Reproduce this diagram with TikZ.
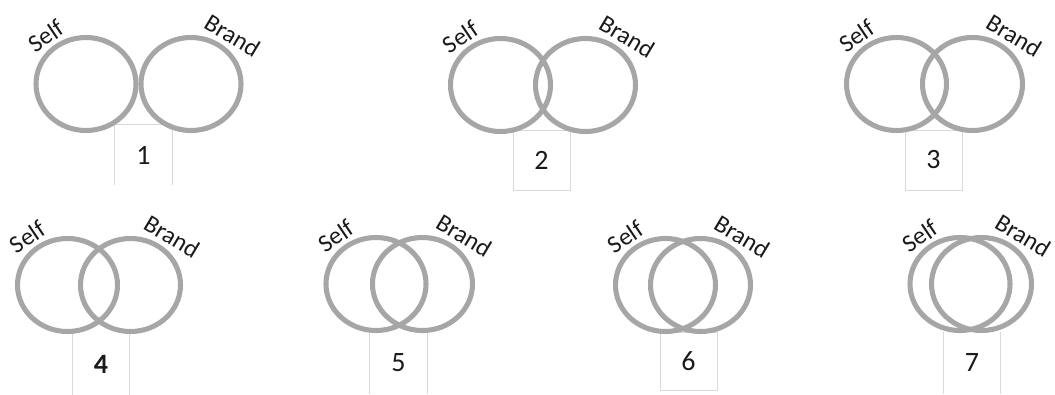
\documentclass[tikz,border=0pt]{standalone}
\usepackage{fontspec}
\setmainfont{Carlito}
\usetikzlibrary{shapes.geometric,calc}
\definecolor{ringgray}{HTML}{A6A6A6}
\definecolor{framegray}{HTML}{D9D9D9}
\definecolor{ink}{HTML}{1A1A1A}

% one Self/Brand pair: #1 id, #2 left centre x, #3 right centre x, #4 centre y
\newcommand\vennpair[4]{%
  \node[venn] (self#1) at (#2,#4) {};
  \node[venn] (brand#1) at (#3,#4) {};
  \node[lbl, rotate=34] (selftext#1) at ($(self#1.center)+(-40,-48)$) {Self};
  \node[lbl, rotate=-31] (brandtext#1) at ($(brand#1.center)+(41.5,-48.5)$) {Brand};
}

\begin{document}
\begin{tikzpicture}[x=0.75pt,y=-0.75pt,
  venn/.style={ellipse, draw=ringgray, line width=3.8pt,
    minimum width=75pt, minimum height=69.75pt, inner sep=0pt},
  lbl/.style={text=ink, font=\fontsize{18.5}{18.5}\selectfont, inner sep=0pt},
  numbox/.style={text=ink, font=\fontsize{21}{21}\selectfont, inner sep=0pt,
    minimum width=42.75pt, minimum height=45pt},
  fullbox/.style={numbox, draw=framegray, line width=0.75pt},
  openbox/.style={numbox, minimum height=46.5pt},
  frameline/.style={draw=framegray, line width=0.75pt},
]
\useasboundingbox (0,0) rectangle (1055,394);
\clip (0,0) rectangle (1055,394);

% numbered frames, drawn beneath the rings
\node[numbox] (box1) at (143.5,155) {1};
\draw[frameline] (box1.south west) |- (box1.north east) -- (box1.south east);
\node[fullbox] (box2) at (541.5,160) {2};
\node[fullbox] (box3) at (933.5,160) {3};
\node[openbox, font=\fontsize{21}{21}\selectfont\bfseries] (box4) at (101,364) {4};
\draw[frameline] (box4.north west) -- (box4.south west) (box4.north east) -- (box4.south east);
\node[openbox] (box5) at (398.5,363) {5};
\draw[frameline] (box5.north west) -- (box5.south west) (box5.north east) -- (box5.south east);
\node[fullbox, minimum width=42.75pt, minimum height=43.5pt] (box6) at (688.5,361) {6};
\node[openbox] (box7) at (972,363) {7};
\draw[frameline] (box7.north west) -- (box7.south west) (box7.north east) -- (box7.south east);

% rings and their labels
\vennpair{1}{86}{191}{84}
\vennpair{2}{500.5}{585.5}{85}
\vennpair{3}{896.5}{972.5}{84}
\vennpair{4}{67.5}{130.5}{285}
\vennpair{5}{376}{422.5}{284}
\vennpair{6}{665.5}{700.5}{285}
\vennpair{7}{960}{981.5}{284}
\end{tikzpicture}
\end{document}
